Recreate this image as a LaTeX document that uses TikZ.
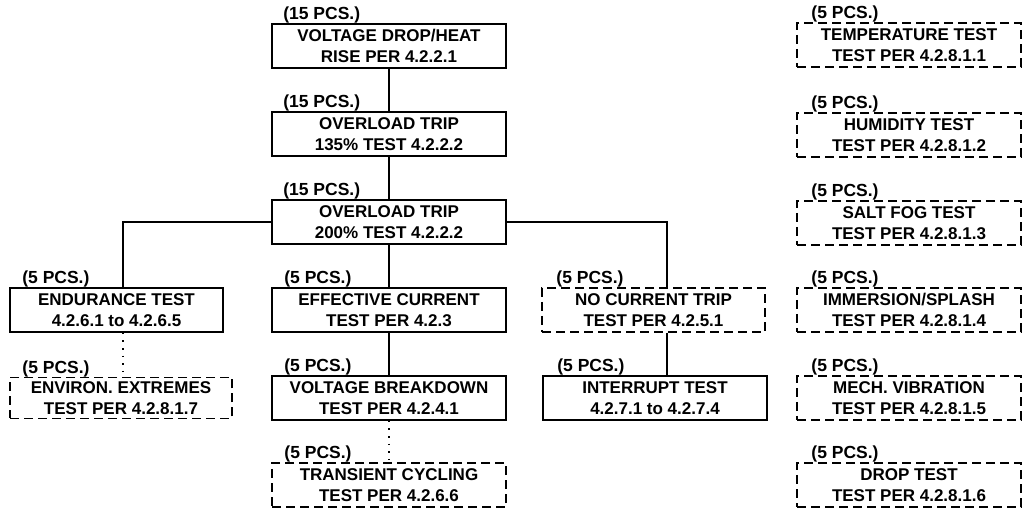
\documentclass[tikz,border=0pt]{standalone}
\usepackage{fontspec}
\setmainfont{Liberation Sans}
\usetikzlibrary{calc}
\begin{document}
\begin{tikzpicture}[x=1pt,y=-1pt,
  boxtxt/.style={align=center,font=\bfseries\fontsize{17}{20.5}\selectfont,inner sep=0pt,minimum height=44pt},
  solidbox/.style={boxtxt,draw,line width=1.7pt},
  dashbox/.style={boxtxt,draw,line width=1.5pt,dash pattern=on 9pt off 5pt},
  pcs/.style={anchor=base west,font=\bfseries\fontsize{17.5}{19}\selectfont,inner sep=0pt},
  conn/.style={line width=1.4pt},
  thickconn/.style={line width=2.6pt},
  dotconn/.style={line width=1.6pt,dash pattern=on 1.6pt off 6pt}]
\useasboundingbox (0,0) rectangle (1023,510);
% central column
\node[solidbox,minimum width=234pt] (b1) at (389,46) {VOLTAGE DROP/HEAT\\RISE PER 4.2.2.1};
\node[solidbox,minimum width=234pt] (b2) at (389,134) {OVERLOAD TRIP\\135\% TEST 4.2.2.2};
\node[solidbox,minimum width=234pt] (b3) at (389,222) {OVERLOAD TRIP\\200\% TEST 4.2.2.2};
\node[solidbox,minimum width=213pt] (endur) at (116.5,310) {ENDURANCE TEST\\4.2.6.1 to 4.2.6.5};
\node[dashbox,minimum width=222pt,minimum height=41pt] (env) at (121,398) {ENVIRON. EXTREMES\\TEST PER 4.2.8.1.7};
\node[solidbox,minimum width=234pt] (eff) at (389,310) {EFFECTIVE CURRENT\\TEST PER 4.2.3};
\node[solidbox,minimum width=234pt] (brk) at (389,398) {VOLTAGE BREAKDOWN\\TEST PER 4.2.4.1};
\node[dashbox,minimum width=234pt] (trn) at (389,485) {TRANSIENT CYCLING\\TEST PER 4.2.6.6};
\node[dashbox,minimum width=223pt] (noc) at (653.5,310) {NO CURRENT TRIP\\TEST PER 4.2.5.1};
\node[solidbox,minimum width=224pt] (intr) at (655,398) {INTERRUPT TEST\\4.2.7.1 to 4.2.7.4};
% right column
\node[dashbox,minimum width=224pt] (r1) at (909,45) {TEMPERATURE TEST\\TEST PER 4.2.8.1.1};
\node[dashbox,minimum width=224pt] (r2) at (909,135) {HUMIDITY TEST\\TEST PER 4.2.8.1.2};
\node[dashbox,minimum width=224pt] (r3) at (909,223) {SALT FOG TEST\\TEST PER 4.2.8.1.3};
\node[dashbox,minimum width=224pt] (r4) at (909,310) {IMMERSION/SPLASH\\TEST PER 4.2.8.1.4};
\node[dashbox,minimum width=224pt] (r5) at (909,398) {MECH. VIBRATION\\TEST PER 4.2.8.1.5};
\node[dashbox,minimum width=224pt] (r6) at (909,485) {DROP TEST\\TEST PER 4.2.8.1.6};
% labels
\foreach \n/\t in {b1/15,b2/15,b3/15}
  \node[pcs] (l\n) at ($(\n.north west)+(12,-3.5)$) {(\t\ PCS.)};
\foreach \n in {endur,env,eff,brk,trn}
  \node[pcs] (l\n) at ($(\n.north west)+(13,-3.5)$) {(5 PCS.)};
\foreach \n in {noc,intr,r1,r2,r3,r4,r5,r6}
  \node[pcs] (l\n) at ($(\n.north west)+(15,-3.5)$) {(5 PCS.)};
% connector anchors
\coordinate (endurS) at ($(endur.south)+(6.5,0)$);
\coordinate (endurN) at ($(endur.north)+(6.5,0)$);
\coordinate (nocS) at ($(noc.south)+(13.5,0)$);
\coordinate (nocN) at ($(noc.north)+(13.5,0)$);
% connectors
\draw[conn] (b1.south) -- (b2.north);
\draw[conn] (b2.south) -- (b3.north);
\draw[conn] (b3.south) -- (eff.north);
\draw[conn] (b3.west) -| (endurN);
\draw[conn] (b3.east) -| (nocN);
\draw[conn] (eff.south) -- (brk.north);
\draw[thickconn] (nocS) -- (nocS |- intr.north);
\draw[dotconn] (endurS) -- (endurS |- env.north);
\draw[dotconn] (brk.south) -- (trn.north);
\end{tikzpicture}
\end{document}
